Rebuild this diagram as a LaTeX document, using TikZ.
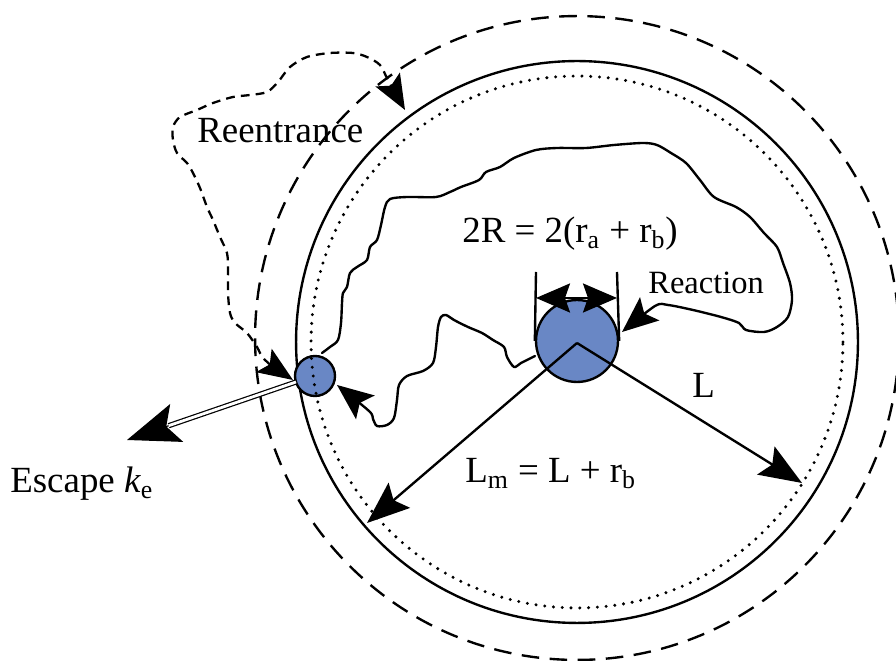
\documentclass[tikz,border=0pt]{standalone}
\usepackage{fontspec}
\setmainfont{Liberation Serif}
\usetikzlibrary{calc, arrows.meta}
\definecolor{AzulParticula}{RGB}{105,135,197}

\begin{document}
\begin{tikzpicture}[
    x=0.02cm, y=-0.02cm, % un pixel de la figura
    texto/.style={font=\fontsize{21}{25}\selectfont, inner sep=0pt},
    texto_chico/.style={font=\fontsize{18.5}{22}\selectfont, inner sep=0pt},
    linea/.style={line width=1.35pt},
    particula/.style={circle, draw, line width=1.35pt, fill=AzulParticula, inner sep=0pt},
    trayectoria/.style={line width=1.35pt, line join=round, line cap=round},
    punta/.style={-{Stealth[length=0.85cm, width=0.66cm, inset=0.15cm]}},
    punta_chica/.style={-{Stealth[length=0.72cm, width=0.6cm, inset=0.14cm]}},
    punta_doble/.style={{Stealth[length=0.68cm, width=0.58cm, inset=0.1cm]}-{Stealth[length=0.68cm, width=0.58cm, inset=0.1cm]}}
]
    \useasboundingbox (0,0) rectangle (896,661);

    % 1. Esferas de radio L, L_m y de escape
    \coordinate (centro) at (577,342);
    \draw[linea, dash pattern=on 10pt off 6pt] (577,338) circle[radius=6.44cm];
    \draw[linea] (centro) circle[radius=5.62cm];

    % 2. Particulas
    \node[particula, minimum size=1.64cm] (reactivo) at (577,341) {};
    \node[particula, minimum size=0.8cm] (escapado) at (315,376) {};

    % esfera punteada (por encima de la particula chica)
    \draw[line width=1.9pt, line cap=round, dash pattern=on 0pt off 5pt] (centro) circle[radius=5.32cm];

    % 3. Radios L y L_m
    \coordinate (vertice) at (577,343);
    \coordinate (finL) at (802,483);
    \coordinate (finLm) at (367,523);
    \draw[linea, punta] (vertice) -- (finL);
    \draw[linea, punta] (vertice) -- (finLm);

    % 4. Cota 2R sobre la particula central
    \coordinate (cota_izq) at (536,272);
    \coordinate (cota_der) at (617,272);
    \draw[linea] (cota_izq) -- (reactivo.west);
    \draw[linea] (cota_der) -- (reactivo.east);
    \coordinate (flecha_izq) at (536,298);
    \coordinate (flecha_der) at (617,298);
    \draw[linea, punta_doble] (flecha_izq) -- (flecha_der);

    % 5. Caminata larga hasta la reaccion
    \coordinate (salidaA) at (322,353);
    \coordinate (llegadaA) at (622,332);
    \draw[trayectoria, punta_chica] plot[smooth, tension=0.5] coordinates {(salidaA) (330,347) (338,340) (341,323) (342,303) (343,293) (347,287) (350,273) (357,267) (367,260) (370,247) (377,240) (381,225) (385,207) (390,199) (407,197) (436,197) (450,192) (461,187) (479,180) (486,172) (500,167) (514,158) (536,150) (557,148) (586,148) (614,145) (643,143) (657,145) (671,153) (686,163) (700,180) (714,197) (736,207) (750,217) (764,233) (777,247) (783,263) (790,283) (792,300) (788,317) (777,327) (764,332) (746,330) (739,323) (721,317) (693,310) (668,305) (655,306) (llegadaA)};

    % 6. Caminata corta de vuelta a la particula chica
    \coordinate (salidaB) at (535,356);
    \coordinate (llegadaB) at (337,385);
    \draw[trayectoria, punta_chica] plot[smooth, tension=0.5] coordinates {(salidaB) (521,363) (514,367) (507,357) (504,347) (493,340) (482,333) (468,327) (454,320) (446,315) (441,317) (438,327) (436,347) (433,363) (423,371) (407,376) (399,385) (397,400) (394,418) (387,425) (377,426) (373,419) (369,411) (llegadaB)};

    % 7. Reentrada (trazo discontinuo)
    \coordinate (reentra_abajo) at (293,380);
    \coordinate (reentra_arriba) at (405,110);
    \draw[line width=1.3pt, dash pattern=on 5pt off 3.5pt, {Stealth[length=0.7cm, width=0.56cm, inset=0.14cm]}-{Stealth[length=0.7cm, width=0.56cm, inset=0.14cm]}]
        plot[smooth, tension=0.5] coordinates {(reentra_abajo) (265,360) (257,347) (247,333) (235,323) (230,313) (228,293) (228,270) (227,253) (220,237) (213,220) (207,207) (200,188) (193,173) (187,163) (177,153) (173,140) (173,127) (180,117) (197,110) (213,103) (233,97) (250,95) (267,92) (278,82) (290,67) (307,57) (330,53) (353,53) (367,57) (380,65) (388,80) (reentra_arriba)};

    % 8. Escape (linea doble)
    \coordinate (salida_esc) at (296,382);
    \coordinate (punta_esc) at (127,440);
    \draw[line width=0.7pt, -{Stealth[length=1.05cm, width=0.8cm, inset=0.22cm]}] ($(punta_esc)!1.4cm!(salida_esc)$) -- (punta_esc);
    \draw[line width=0.7pt, double, double distance=1.6pt, shorten >=0.88cm] (salida_esc) -- (punta_esc);

    % 9. Textos
    \node[texto, anchor=base west] (reentrada) at (197,143) {Reentrance};
    \node[texto, anchor=base] (radio) at (570,243) {2R = 2(r\textsubscript{a} + r\textsubscript{b})};
    \node[texto_chico, anchor=base west] (reaccion) at (648,294) {Reaction};
    \node[texto, anchor=base west] (etiq_L) at (692,398) {L};
    \node[texto, anchor=base west] (etiq_Lm) at (465,483) {L\textsubscript{m} = L + r\textsubscript{b}};
    \node[texto, anchor=base west] (escape) at (10,493) {Escape \textit{k}\textsubscript{e}};

\end{tikzpicture}
\end{document}
